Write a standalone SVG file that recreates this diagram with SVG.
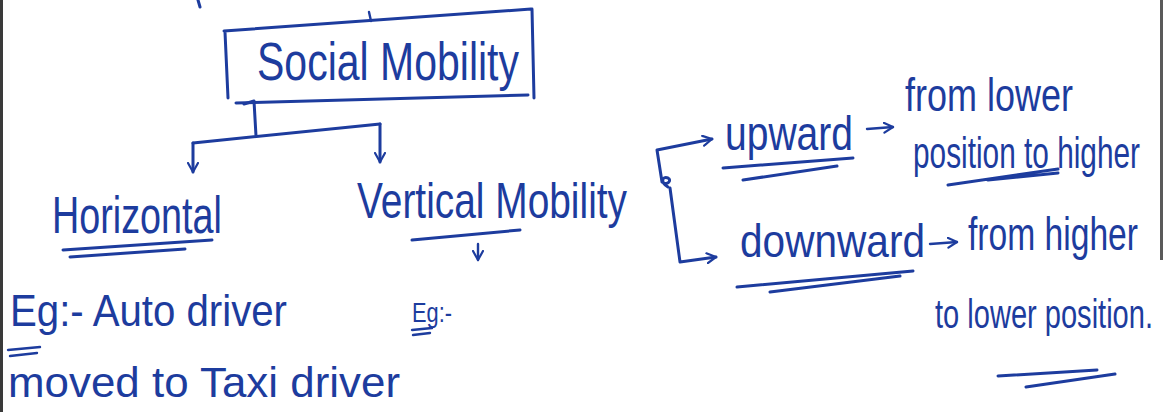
<svg xmlns="http://www.w3.org/2000/svg" width="1163" height="412" viewBox="0 0 1163 412">
  <defs>
    <style>
      .ink { fill: none; stroke: #1d3c9e; stroke-width: 3; stroke-linecap: round; stroke-linejoin: round; }
      .thin { stroke-width: 2.4; }
      .hand { font-family: "Liberation Sans", "DejaVu Sans", sans-serif; fill: #1d3c9e; }
    </style>
    <marker id="head" viewBox="0 0 12 12" refX="10" refY="6" markerWidth="12" markerHeight="12" markerUnits="userSpaceOnUse" orient="auto">
      <path d="M1,1 L10,6 L1,11" fill="none" stroke="#1d3c9e" stroke-width="2.2" stroke-linecap="round" stroke-linejoin="round"/>
    </marker>
  </defs>

  <rect width="1163" height="412" fill="#ffffff"/>

  <!-- scanned page edges -->
  <rect x="0" y="0" width="3" height="412" fill="#3a3a3a"/>
  <rect x="1160" y="0" width="3" height="260" fill="#5a5a5a"/>

  <!-- stray pen marks at the top -->
  <path class="ink" d="M198,0 L200,7"/>
  <path class="ink thin" d="M369,12 L371,21"/>

  <!-- root node; lettering is stretched upright like the pen writing -->
  <g id="node-social">
    <path class="ink" d="M224,31 L531,9 M532,9 L534,98 M528,95 L236,103 M225,32 L228,98"/>
    <g transform="translate(257,80) scale(1,1.3)">
      <text class="hand" x="0" y="0" font-size="41" textLength="262" lengthAdjust="spacingAndGlyphs">Social Mobility</text>
    </g>
  </g>

  <g id="node-horizontal">
    <g transform="translate(52,233) scale(1,1.4)">
      <text class="hand" x="0" y="0" font-size="37" textLength="170" lengthAdjust="spacingAndGlyphs">Horizontal</text>
    </g>
    <path class="ink" d="M63,250 L212,240 M70,257 L185,249"/>
  </g>

  <g id="node-horizontal-example">
    <g transform="translate(10,326) scale(1,1.15)">
      <text class="hand" x="0" y="0" font-size="39" textLength="277" lengthAdjust="spacingAndGlyphs">Eg:- Auto driver</text>
    </g>
    <path class="ink thin" d="M8,350 L40,347 M10,356 L37,353"/>
    <text class="hand" x="8" y="397" font-size="42" textLength="392" lengthAdjust="spacingAndGlyphs">moved to Taxi driver</text>
  </g>

  <g id="node-vertical">
    <g transform="translate(357,218) scale(1,1.3)">
      <text class="hand" x="0" y="0" font-size="38" textLength="270" lengthAdjust="spacingAndGlyphs">Vertical Mobility</text>
    </g>
    <path class="ink" d="M412,240 L520,230"/>
  </g>

  <g id="node-vertical-example">
    <g transform="translate(412,322) scale(1,1.3)">
      <text class="hand" x="0" y="0" font-size="21" textLength="40" lengthAdjust="spacingAndGlyphs">Eg:-</text>
    </g>
    <path class="ink thin" d="M412,330 L432,328 M413,335 L430,333"/>
  </g>

  <g id="node-upward">
    <g transform="translate(725,150) scale(1,1.25)">
      <text class="hand" x="0" y="0" font-size="38" textLength="128" lengthAdjust="spacingAndGlyphs">upward</text>
    </g>
    <path class="ink" d="M723,168 L853,158 M743,180 L837,166"/>
    <path class="ink thin" d="M867,129 L893,127" marker-end="url(#head)"/>
    <g transform="translate(905,111) scale(1,1.3)">
      <text class="hand" x="0" y="0" font-size="35" textLength="168" lengthAdjust="spacingAndGlyphs">from lower</text>
    </g>
    <g transform="translate(913,168) scale(1,1.5)">
      <text class="hand" x="0" y="0" font-size="29" textLength="227" lengthAdjust="spacingAndGlyphs">position to higher</text>
    </g>
    <path class="ink" d="M948,185 L1058,169 M988,180 L1058,173"/>
  </g>

  <g id="node-downward">
    <g transform="translate(740,257) scale(1,1.15)">
      <text class="hand" x="0" y="0" font-size="40" textLength="185" lengthAdjust="spacingAndGlyphs">downward</text>
    </g>
    <path class="ink" d="M737,287 L913,271 M770,292 L900,276"/>
    <path class="ink thin" d="M930,244 L957,242" marker-end="url(#head)"/>
    <g transform="translate(968,250) scale(1,1.4)">
      <text class="hand" x="0" y="0" font-size="33" textLength="170" lengthAdjust="spacingAndGlyphs">from higher</text>
    </g>
    <g transform="translate(935,328) scale(1,1.4)">
      <text class="hand" x="0" y="0" font-size="29" textLength="218" lengthAdjust="spacingAndGlyphs">to lower position.</text>
    </g>
    <path class="ink" d="M998,376 L1097,370 M1026,387 L1115,374"/>
  </g>

  <!-- connectors -->
  <g id="connectors">
    <!-- Social Mobility splits into the two kinds -->
    <path class="ink" d="M244,104 L254,101 L256,136"/>
    <path class="ink" d="M193,143 L380,124"/>
    <path class="ink" d="M193,143 L193,172" marker-end="url(#head)"/>
    <path class="ink" d="M380,124 L380,162" marker-end="url(#head)"/>
    <!-- example pointer under Vertical -->
    <path class="ink thin" d="M478,244 L478,260" marker-end="url(#head)"/>
    <!-- Vertical Mobility branches -->
    <path class="ink" d="M668,187 C660,182 662,176 668,178 C672,180 668,186 662,182 L657,150 L712,139" marker-end="url(#head)"/>
    <path class="ink" d="M670,188 L680,262 L716,257" marker-end="url(#head)"/>
  </g>
</svg>
